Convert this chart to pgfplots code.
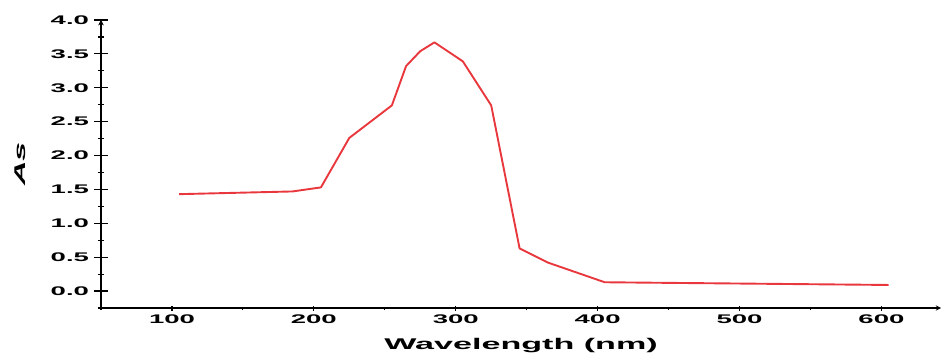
\documentclass[border=0pt]{standalone}
\usepackage{fontspec}
\setmainfont{Liberation Sans}[FakeStretch=2.2]
\usepackage{pgfplots}
\pgfplotsset{compat=1.18}
\definecolor{curve}{HTML}{E8383D}
\pgfplotsset{common/.style={
  scale only axis,
  width=840pt, height=288pt,
  xmin=50, xmax=642, ymin=-0.25, ymax=4.0,
  axis line style={-, line width=1.3pt, black},
  tick align=outside,
  every tick/.style={line width=1.2pt, black},
  /pgf/number format/assume math mode=true,
  ticklabel style={font=\fontsize{12.5}{14}\selectfont\bfseries},
  label style={font=\fontsize{15.5}{18}\selectfont\bfseries},
  clip=false,
}}
\begin{document}
\begin{tikzpicture}
\begin{axis}[common,
  axis x line=bottom, axis y line=left,
  xtick={100,200,...,600},
  minor xtick={50,150,...,650},
  ytick=\empty,
  major tick length=5pt, minor tick length=3pt,
  xticklabel style={yshift=-1pt},
  xlabel={Wavelength (nm)},
  xlabel style={yshift=-7pt},
]
\coordinate (ll) at (rel axis cs:0,0);
\coordinate (ur) at (rel axis cs:1,1);
\addplot[color=curve, line width=1.9pt, line join=round] coordinates {
(105,1.43) (185,1.47) (205,1.53) (225,2.26) (255,2.74) (265,3.32) (275,3.54) (285,3.67)
(305,3.39) (325,2.74) (345,0.63) (365,0.42) (405,0.13) (505,0.11) (605,0.09)
};
\end{axis}
\begin{axis}[common,
  hide x axis,
  axis y line=left,
  ytick={0,0.5,...,4.0},
  minor ytick={-0.25,0.25,...,3.75},
  major tick length=13pt, minor tick length=6pt,
  yticklabel style={/pgf/number format/fixed, /pgf/number format/fixed zerofill, /pgf/number format/precision=1, xshift=-2pt},
  ylabel={\textit{As}},
  ylabel style={yshift=18pt},
]
\end{axis}
\pgfresetboundingbox
\path[use as bounding box] ([xshift=-101pt,yshift=-46pt]ll) rectangle ([yshift=20pt]ur);
\end{tikzpicture}
\end{document}
